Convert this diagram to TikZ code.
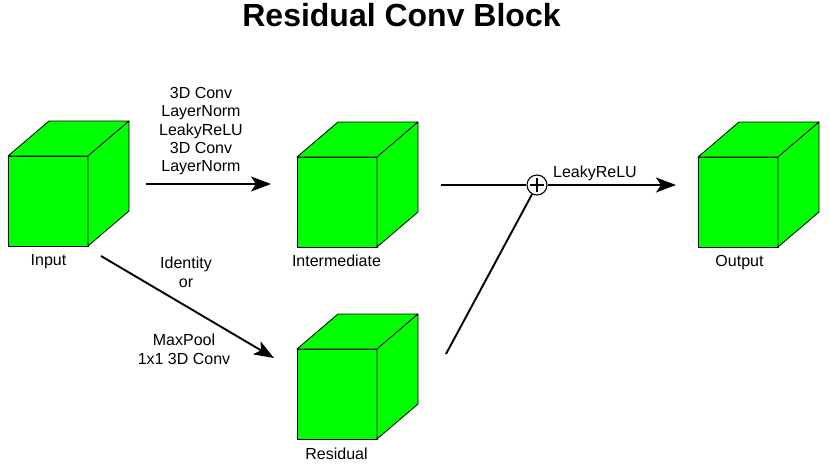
\documentclass[tikz,border=0pt]{standalone}
\usepackage{fontspec}
\setmainfont{Liberation Sans}
\usetikzlibrary{arrows.meta}
\definecolor{cubegreen}{HTML}{00FF00}
\newcommand\drawcube[3]{% name, center x, center y of front face
  \node[cubefront] (#1) at (#2,#3) {};
  \draw[face] (#1.north west) -- ++(41,-35) -- ++(80,0) -- (#1.north east) -- cycle;
  \draw[face] (#1.north east) -- ++(41,-35) -- ++(0,90) -- (#1.south east) -- cycle;
}
\begin{document}
\begin{tikzpicture}[x=1pt,y=-1pt,
  face/.style={fill=cubegreen,draw=black,line width=0.8pt,line join=round},
  cubefront/.style={face,minimum width=80pt,minimum height=90pt,inner sep=0pt,outer sep=0pt},
  lbl/.style={font=\fontsize{16}{18.3}\selectfont,inner sep=0pt,align=center},
  conn/.style={line width=1.9pt},
  arr/.style={conn,-{Stealth[length=20pt,width=15pt,inset=5pt]}},
  sumnode/.style={circle,draw,line width=1.1pt,fill=white,minimum size=20pt,inner sep=0pt,
    path picture={\draw[line width=2pt]
      ([xshift=-7pt]path picture bounding box.center) -- ([xshift=7pt]path picture bounding box.center)
      ([yshift=-7pt]path picture bounding box.center) -- ([yshift=7pt]path picture bounding box.center);}}
]
\useasboundingbox (0,0) rectangle (830,469);
% title
\node[font=\bfseries\fontsize{32}{36}\selectfont,inner sep=0pt,anchor=base] (title) at (401.5,26.7) {Residual Conv Block};
% cubes
\drawcube{in}{48}{201}
\drawcube{mid}{337}{202}
\drawcube{res}{337}{394}
\drawcube{out}{738}{202}
% cube labels
\node[lbl,anchor=base] (inl) at (48.5,265) {Input};
\node[lbl,anchor=base] (midl) at (336.5,266) {Intermediate};
\node[lbl,anchor=base] (outl) at (739.5,266) {Output};
\node[lbl,anchor=base] (resl) at (336.5,459) {Residual};
% connector end points
\coordinate (a1s) at (146,184);
\coordinate (a1e) at (271,184);
\coordinate (a2s) at (101,256);
\coordinate (a2e) at (274,358);
\coordinate (a3s) at (441,185);
\coordinate (a3e) at (676,185);
\coordinate (a4s) at (446,354);
\node[sumnode] (sum) at (537,185) {};
% connectors
\draw[arr] (a1s) -- (a1e);
\draw[arr] (a2s) -- (a2e);
\draw[conn] (a3s) -- (sum);
\draw[arr] (sum) -- (a3e);
\draw[conn] (a4s) -- (sum);
% connector labels
\node[lbl,anchor=north] (l1) at (201,87.3) {3D Conv\\LayerNorm\\LeakyReLU\\3D Conv\\LayerNorm};
\node[lbl,anchor=north] (l2) at (186,257) {Identity\\or};
\node[lbl,anchor=north] (l3) at (184,334) {MaxPool\\1x1 3D Conv};
\node[lbl,anchor=base] (l4) at (595,177) {LeakyReLU};
\end{tikzpicture}
\end{document}
